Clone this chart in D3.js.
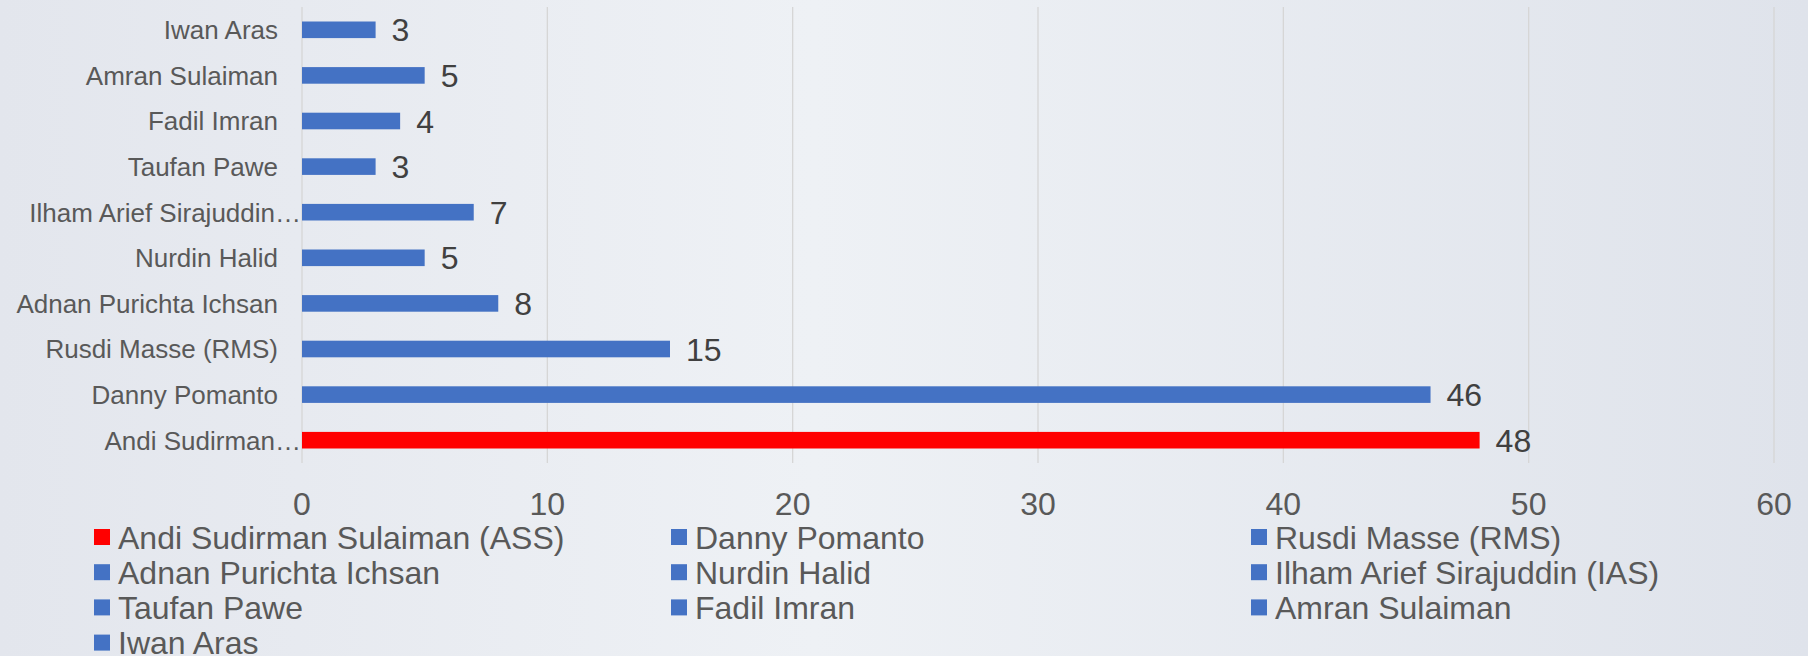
<!DOCTYPE html>
<html>
<head>
<meta charset="utf-8">
<script src="https://cdn.jsdelivr.net/npm/d3@7"></script>
<style>
  html, body { margin: 0; padding: 0; }
  body { width: 1808px; height: 656px; overflow: hidden; }
  svg { display: block; font-family: Arial, "Liberation Sans", sans-serif; }
</style>
</head>
<body>
<svg id="vis" width="1808" height="656"></svg>
<script>
// candidates, bottom bar first (same order as the legend)
let names = [
    "Andi Sudirman Sulaiman (ASS)",
    "Danny Pomanto",
    "Rusdi Masse (RMS)",
    "Adnan Purichta Ichsan",
    "Nurdin Halid",
    "Ilham Arief Sirajuddin (IAS)",
    "Taufan Pawe",
    "Fadil Imran",
    "Amran Sulaiman",
    "Iwan Aras"
];
// axis labels, truncated like the original
let axisLabels = [
    "Andi Sudirman\u2026",
    "Danny Pomanto",
    "Rusdi Masse (RMS)",
    "Adnan Purichta Ichsan",
    "Nurdin Halid",
    "Ilham Arief Sirajuddin\u2026",
    "Taufan Pawe",
    "Fadil Imran",
    "Amran Sulaiman",
    "Iwan Aras"
];
let values = [48, 46, 15, 8, 5, 7, 3, 4, 5, 3];
let barColors = ["#ff0000", "#4472c4", "#4472c4", "#4472c4", "#4472c4",
                 "#4472c4", "#4472c4", "#4472c4", "#4472c4", "#4472c4"];
let xTicks = [0, 10, 20, 30, 40, 50, 60];

var svg = d3.select("#vis");

// background
var defs = svg.append("defs");
var grad = defs.append("linearGradient").attr("id", "bg")
    .attr("x1", 0).attr("y1", 0).attr("x2", 1).attr("y2", 0);
grad.append("stop").attr("offset", "0%").attr("stop-color", "#e3e6ed");
grad.append("stop").attr("offset", "45%").attr("stop-color", "#eef1f5");
grad.append("stop").attr("offset", "100%").attr("stop-color", "#dfe3eb");
svg.append("rect").attr("width", 1808).attr("height", 656).attr("fill", "url(#bg)");

// plot area
var plotLeft = 302, plotRight = 1774, plotTop = 7, plotBottom = 463;

var x = d3.scaleLinear().domain([0, 60]).range([plotLeft, plotRight]);

// names[0] goes at the bottom
var y = d3.scaleBand()
    .domain(d3.range(names.length).reverse())
    .range([plotTop, plotBottom])
    .paddingInner(0.636)
    .paddingOuter(0.318);

// gridlines
svg.append("g").selectAll("line")
    .data(xTicks)
    .enter()
    .append("line")
    .attr("x1", d => x(d)).attr("x2", d => x(d))
    .attr("y1", plotTop).attr("y2", plotBottom)
    .attr("stroke", "#d6d6d6")
    .attr("stroke-width", 1.3);

// x tick labels
svg.append("g").selectAll("text")
    .data(xTicks)
    .enter()
    .append("text")
    .attr("x", d => x(d))
    .attr("y", 515)
    .attr("text-anchor", "middle")
    .attr("font-size", 32)
    .attr("fill", "#595959")
    .text(d => d);

// category labels (truncated ones run right up to the axis)
svg.append("g").selectAll("text")
    .data(axisLabels)
    .enter()
    .append("text")
    .attr("x", d => d.endsWith("\u2026") ? x(0) - 1 : x(0) - 24)
    .attr("y", (d, i) => y(i) + y.bandwidth() / 2)
    .attr("dy", "0.36em")
    .attr("text-anchor", "end")
    .attr("font-size", 26)
    .attr("fill", "#595959")
    .text(d => d);

// bars
svg.append("g").selectAll("rect")
    .data(values)
    .enter()
    .append("rect")
    .attr("x", x(0))
    .attr("y", (d, i) => y(i))
    .attr("width", d => x(d) - x(0))
    .attr("height", y.bandwidth())
    .attr("fill", (d, i) => barColors[i]);

// value labels
svg.append("g").selectAll("text")
    .data(values)
    .enter()
    .append("text")
    .attr("x", d => x(d) + 16)
    .attr("y", (d, i) => y(i) + y.bandwidth() / 2)
    .attr("dy", "0.36em")
    .attr("font-size", 32)
    .attr("fill", "#404040")
    .text(d => d);

// legend, 3 columns
var colX = [94, 671, 1251];
var rowY = 537, rowH = 35.2;
var leg = svg.append("g").selectAll("g")
    .data(names)
    .enter()
    .append("g")
    .attr("transform", (d, i) => "translate(" + colX[i % 3] + "," + (rowY + Math.floor(i / 3) * rowH) + ")");
leg.append("rect")
    .attr("x", 0).attr("y", -8)
    .attr("width", 16).attr("height", 16)
    .attr("fill", (d, i) => barColors[i]);
leg.append("text")
    .attr("x", 24)
    .attr("y", 0)
    .attr("dy", "0.36em")
    .attr("font-size", 32)
    .attr("fill", "#595959")
    .text(d => d);
</script>
</body>
</html>
